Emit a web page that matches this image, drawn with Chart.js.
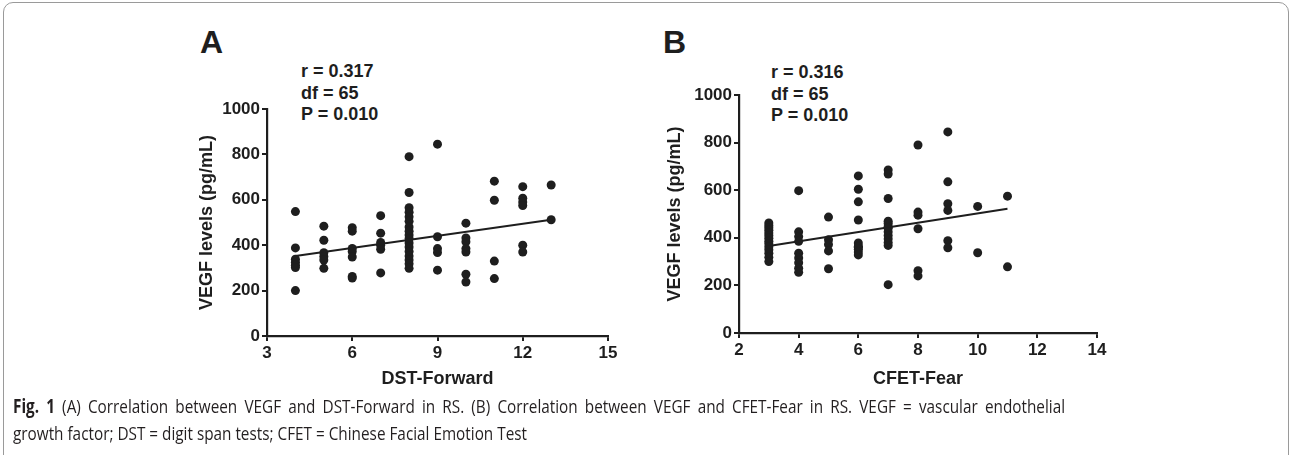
<!DOCTYPE html>
<html>
<head>
<meta charset="utf-8">
<script src="https://cdn.jsdelivr.net/npm/chart.js@4/dist/chart.umd.min.js"></script>
<style>
  html, body { margin: 0; padding: 0; background: #fff; }
  body { width: 1292px; height: 455px; position: relative; overflow: hidden; font-family: "Liberation Sans", Arial, sans-serif; color: #1e1e1e; }
  .frame { position: absolute; left: 3px; top: 2px; width: 1284px; height: 480px; border: 1px solid #9a9a9a; border-radius: 10px; }
  .wrap { position: absolute; }
  .letter { position: absolute; font-weight: bold; font-size: 32px; line-height: 32px; }
  .stats { position: absolute; font-weight: bold; font-size: 18px; line-height: 21.7px; white-space: pre; }
  #capCanvas { position: absolute; left: 0; top: 390px; }
</style>
</head>
<body>
<div class="frame"></div>
<div class="letter" style="left:200px; top:26px;">A</div>
<div class="letter" style="left:663px; top:26px;">B</div>
<div class="stats" id="statsA" style="left:301px; top:61px;"></div>
<div class="stats" id="statsB" style="left:771px; top:62px;"></div>
<div class="wrap" style="left:150px; top:90px; width:470px; height:310px;"><canvas id="cA"></canvas></div>
<div class="wrap" style="left:640px; top:80px; width:470px; height:320px;"><canvas id="cB"></canvas></div>
<canvas id="capCanvas" width="1280" height="62"></canvas>
<script>
// ---- Panel A data: DST-Forward vs VEGF ----
const dstForward = [
  4,4,4,4,4,4,4,
  5,5,5,5,5,5,
  6,6,6,6,6,6,6,
  7,7,7,7,7,7,
  8,8,8,8,8,8,8,8,8,8,8,8,8,8,8,8,8,
  9,9,9,9,9,
  10,10,10,10,10,10,10,
  11,11,11,11,
  12,12,12,12,12,12,
  13,13
];
const vegfA = [
  548,388,338,325,312,302,200,
  484,422,367,350,335,298,
  477,462,386,372,348,262,255,
  530,453,412,400,382,278,
  790,632,565,545,525,505,480,462,445,430,410,392,372,352,335,318,298,
  845,437,385,368,290,
  497,432,415,385,370,272,238,
  682,598,330,253,
  658,607,590,575,400,370,
  665,512
];
const fitA_x = [4, 13];
const fitA_y = [352, 512];
const statsA = ["r = 0.317", "df = 65", "P = 0.010"];
const xTicksA = { min: 3, max: 15, step: 3 };

// ---- Panel B data: CFET-Fear vs VEGF ----
const cfetFear = [
  3,3,3,3,3,3,3,3,3,3,3,3,3,3,
  4,4,4,4,4,4,4,4,4,
  5,5,5,5,5,
  6,6,6,6,6,6,6,6,6,6,
  7,7,7,7,7,7,7,7,7,7,7,7,7,
  8,8,8,8,8,8,
  9,9,9,9,9,9,
  10,10,
  11,11
];
const vegfB = [
  462,452,442,432,420,410,398,386,375,362,350,335,318,300,
  598,425,405,385,335,315,295,272,255,
  487,392,372,345,270,
  660,604,551,475,378,365,360,352,340,328,
  685,668,565,470,460,448,440,425,410,395,380,368,203,
  790,508,495,438,262,240,
  845,635,543,515,388,358,
  532,337,
  575,278
];
const fitB_x = [3, 11];
const fitB_y = [366, 522];
const statsB = ["r = 0.316", "df = 65", "P = 0.010"];
const xTicksB = { min: 2, max: 14, step: 2 };

const yTicks = { min: 0, max: 1000, step: 200 };
const yTitle = "VEGF levels (pg/mL)";

const captionBold = "Fig. 1";
const captionLine1 = "(A) Correlation between VEGF and DST-Forward in RS. (B) Correlation between VEGF and CFET-Fear in RS. VEGF = vascular endothelial";
const captionLine2 = "growth factor; DST = digit span tests; CFET = Chinese Facial Emotion Test";

document.getElementById('statsA').textContent = statsA.join("\n");
document.getElementById('statsB').textContent = statsB.join("\n");

const INK = '#1e1e1e';
const FONT = "'Liberation Sans', Arial, sans-serif";

function pts(xs, ys) { return xs.map((x, i) => ({ x: x, y: ys[i] })); }

function makeChart(id, xs, ys, fx, fy, xt, xTitle, geo) {
  return new Chart(document.getElementById(id), {
    type: 'scatter',
    data: {
      datasets: [
        { data: pts(xs, ys), backgroundColor: INK, borderColor: INK, pointRadius: 4.5, pointHoverRadius: 4.5, borderWidth: 0 },
        { type: 'line', data: pts(fx, fy), borderColor: INK, borderWidth: 2, pointRadius: 0, fill: false, tension: 0 }
      ]
    },
    options: {
      responsive: true, maintainAspectRatio: false, animation: false,
      devicePixelRatio: 1,
      events: [],
      layout: { padding: { left: 0, top: geo.top, right: geo.right, bottom: 0 } },
      plugins: { legend: { display: false }, tooltip: { enabled: false } },
      scales: {
        x: {
          type: 'linear', min: xt.min, max: xt.max,
          afterBuildTicks: (s) => { const t = []; for (let v = xt.min; v <= xt.max + 1e-9; v += xt.step) t.push({ value: v }); s.ticks = t; },
          grid: { drawOnChartArea: false, drawTicks: true, tickLength: 5, color: INK, lineWidth: 2 },
          border: { display: true, color: INK, width: 2.2 },
          ticks: { color: INK, font: { family: FONT, size: 17, weight: 'bold' }, padding: 2, maxRotation: 0, callback: (v) => String(v) },
          title: { display: true, text: xTitle, color: INK, font: { family: FONT, size: 18, weight: 'bold' }, padding: { top: 0, bottom: geo.xTitlePad } },
          afterFit: (s) => { s.height = geo.xH; }
        },
        y: {
          type: 'linear', min: yTicks.min, max: yTicks.max,
          ticks: { stepSize: yTicks.step, color: INK, font: { family: FONT, size: 17, weight: 'bold' }, padding: 2, callback: (v) => String(v) },
          grid: { drawOnChartArea: false, drawTicks: true, tickLength: 5, color: INK, lineWidth: 2 },
          border: { display: true, color: INK, width: 2.2 },
          title: { display: true, text: yTitle, color: INK, font: { family: FONT, size: 18, weight: 'bold' }, padding: { top: geo.yTitlePad, bottom: 0 } },
          afterFit: (s) => { s.width = geo.yW; }
        }
      }
    }
  });
}

makeChart('cA', dstForward, vegfA, fitA_x, fitA_y, xTicksA, 'DST-Forward',
  { top: 19, right: 12, xH: 64, xTitlePad: 10, yW: 117, yTitlePad: 46 });
makeChart('cB', cfetFear, vegfB, fitB_x, fitB_y, xTicksB, 'CFET-Fear',
  { top: 15, right: 13, xH: 67, xTitlePad: 10, yW: 99, yTitlePad: 24 });

// caption drawn on a canvas: condensed, first line justified to full width
function drawCaption() {
  const cv = document.getElementById('capCanvas');
  const ctx = cv.getContext('2d');
  ctx.setTransform(1, 0, 0, 1, 0, 0);
  ctx.clearRect(0, 0, cv.width, cv.height);
  ctx.fillStyle = '#231f20';
  ctx.textBaseline = 'middle';
  const REG = '19px "Open Sans", sans-serif';
  const BLD = 'bold 19px "Open Sans", sans-serif';
  ctx.font = REG;
  const w2 = ctx.measureText(captionLine2).width;
  const k = 514 / w2;
  // line 2
  ctx.save();
  ctx.translate(13, 45);
  ctx.scale(k, 1);
  ctx.fillText(captionLine2, 0, 0);
  ctx.restore();
  // line 1 (justified)
  const words = [];
  captionBold.split(' ').forEach(w => words.push({ t: w, f: BLD }));
  captionLine1.split(' ').forEach(w => words.push({ t: w, f: REG }));
  let sum = 0;
  words.forEach(w => { ctx.font = w.f; w.w = ctx.measureText(w.t).width; sum += w.w; });
  const gap = (1052 / k - sum) / (words.length - 1);
  ctx.save();
  ctx.translate(13, 18);
  ctx.scale(k, 1);
  let x = 0;
  words.forEach(w => { ctx.font = w.f; ctx.fillText(w.t, x, 0); x += w.w + gap; });
  ctx.restore();
}
drawCaption();
if (document.fonts && document.fonts.ready) document.fonts.ready.then(drawCaption);
</script>
</body>
</html>
